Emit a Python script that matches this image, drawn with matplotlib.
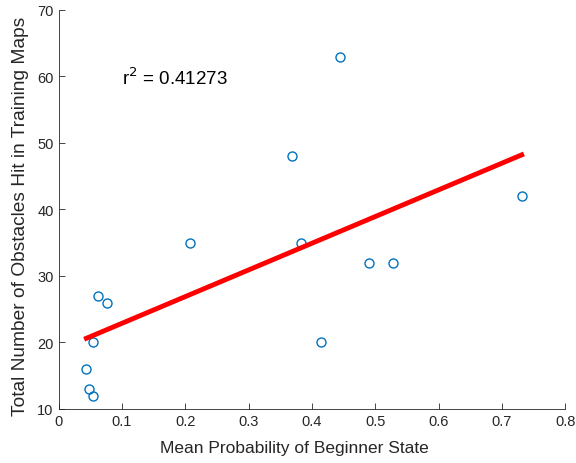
import numpy as np
import matplotlib.pyplot as plt

plt.rcParams['font.family'] = ['Liberation Sans', 'DejaVu Sans']

# mean probability of beginner state vs obstacles hit
prob = [0.044, 0.048, 0.055, 0.055, 0.063, 0.076, 0.208, 0.368, 0.383,
        0.414, 0.445, 0.490, 0.528, 0.731]
hits = [16, 13, 12, 20, 27, 26, 35, 48, 35, 20, 63, 32, 32, 42]

x = np.array(prob)
y = np.array(hits)
k, b = np.polyfit(x, y, 1)
xl = np.array([x.min(), x.max()])

fig = plt.figure(figsize=(5.76, 4.64), dpi=100)
ax = fig.add_axes([0.1016, 0.1164, 0.880, 0.86])

ax.plot(x, y, 'o', mfc='none', mec='#0072BD', ms=6.5, mew=1.0)
ax.plot(xl, k * xl + b, color='red', lw=3.5)
ax.text(0.1, 58.9, 'r$^2$ = 0.41273', fontsize=13.5)

ax.set_xlim(0, 0.8)
ax.set_ylim(10, 70)
ax.set_xticks(np.arange(0, 0.81, 0.1))
ax.set_xticklabels(['0', '0.1', '0.2', '0.3', '0.4', '0.5', '0.6', '0.7', '0.8'])
ax.set_yticks(range(10, 71, 10))
ax.set_xlabel('Mean Probability of Beginner State', fontsize=12.5, color='#262626', labelpad=9)
ax.set_ylabel('Total Number of Obstacles Hit in Training Maps', fontsize=13.8, color='#262626', labelpad=6)
ax.xaxis.label.set_x(0.466)
ax.yaxis.label.set_y(0.486)

for s in ['top', 'right']:
    ax.spines[s].set_visible(False)
for s in ['left', 'bottom']:
    ax.spines[s].set_color('#262626')
    ax.spines[s].set_linewidth(0.6)
ax.tick_params(direction='in', length=4, width=0.6, colors='#262626', labelsize=10.5)

fig.savefig('out.png', dpi=100)
